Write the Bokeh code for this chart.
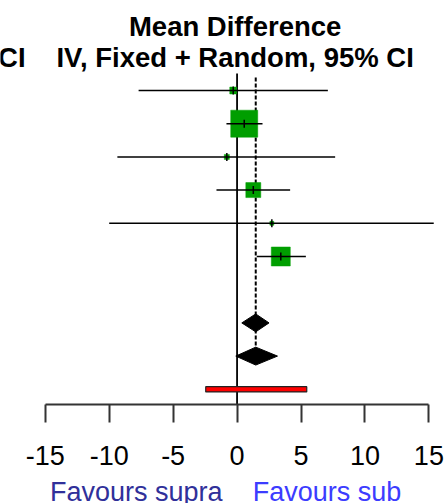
from bokeh.plotting import figure
from bokeh.layouts import column
from bokeh.models import Range1d, LinearAxis, FixedTicker, Label, ColumnDataSource
from bokeh.embed import file_html
from bokeh.resources import INLINE
import math

# Study-level mean differences with 95% confidence limits
md = [-0.30, 0.56, -0.80, 1.27, 2.72, 3.42]
ci_lower = [-7.70, -0.83, -9.36, -1.61, -10.00, 1.54]
ci_upper = [7.10, 1.99, 7.67, 4.15, 15.38, 5.38]
weight = [3.4, 52.0, 1.8, 16.0, 1.1, 25.7]   # percent

# Pooled estimates (mean, lower, upper) and prediction interval
fixed_est = [1.46, 0.37, 2.50]
random_est = [1.46, -0.10, 3.16]
pred_interval = [-2.45, 5.45]

ticks = [-15, -10, -5, 0, 5, 10, 15]
tick_labels = ["-15", "-10", "-5", "0", "5", "10", "15"]
title_1 = "Mean Difference"
title_2 = "IV, Fixed + Random, 95% CI"
left_col = "CI"
favours_left = "Favours supra"
favours_right = "Favours sub"

FONT = "Liberation Sans"
GREEN = "#009e00"

x_range = Range1d(-18.50, 16.30)

p = figure(frame_width=445, frame_height=404,
           x_range=x_range, y_range=Range1d(9.458, -2.711),
           output_backend="svg", toolbar_location=None,
           min_border_left=0, min_border_right=0, min_border_top=0,
           min_border_bottom=75, x_axis_type=None, y_axis_type=None)
p.grid.visible = False
p.outline_line_color = None
p.background_fill_color = "white"
p.border_fill_color = "white"

rows = list(range(len(md)))

# reference line at zero and dashed pooled-estimate line
p.segment(x0=[0], y0=[-0.51], x1=[0], y1=[9.458], line_color="black", line_width=1.8)
p.segment(x0=[fixed_est[0]], y0=[-0.39], x1=[fixed_est[0]], y1=[8],
          line_color="black", line_width=2, line_dash="4 2")

# weighted squares
sizes = [27 * math.sqrt(w / max(weight)) for w in weight]
src = ColumnDataSource(dict(x=md, y=rows, size=sizes))
p.scatter("x", "y", size="size", marker="square", source=src,
          fill_color=GREEN, line_color=GREEN, line_width=0.5)

# confidence intervals, drawn over the squares
p.segment(x0=ci_lower, y0=rows, x1=ci_upper, y1=rows, line_color="black", line_width=1.5)
# centre tick on each square
p.segment(x0=md, y0=[r - 0.12 for r in rows], x1=md, y1=[r + 0.12 for r in rows],
          line_color="black", line_width=1.5)

# pooled diamonds
h = 0.27
for est, yy in ((fixed_est, 7), (random_est, 8)):
    m, lo, hi = est
    p.patch(x=[lo, m, hi, m], y=[yy, yy - h, yy, yy + h],
            fill_color="black", line_color="black", line_width=1)

# prediction interval bar
p.quad(left=[pred_interval[0]], right=[pred_interval[1]], top=[9 - 0.08], bottom=[9 + 0.08],
       fill_color="#ff0000", line_color="#222222", line_width=1.2)

# x axis
ax = LinearAxis(ticker=FixedTicker(ticks=ticks), bounds=(-15, 15))
ax.major_label_overrides = {t: s for t, s in zip(ticks, tick_labels)}
ax.axis_line_color = "#333333"
ax.axis_line_width = 2
ax.major_tick_line_color = "#333333"
ax.major_tick_line_width = 2
ax.major_tick_out = 18
ax.major_tick_in = 0
ax.minor_tick_line_color = None
ax.major_label_standoff = 23
ax.major_label_text_font = FONT
ax.major_label_text_font_size = "27px"
ax.major_label_text_color = "black"
p.add_layout(ax, "below")

# headings
for txt, x, y, align in ((title_1, -0.15, -1.937, "center"),
                         (title_2, -0.15, -1.0, "center"),
                         (left_col, -16.54, -1.0, "right")):
    p.add_layout(Label(x=x, y=y, text=txt, text_align=align, text_baseline="alphabetic",
                       text_font=FONT, text_font_size="27.5px", text_font_style="bold",
                       text_color="black"))

# direction labels under the axis
q = figure(frame_width=445, frame_height=24, x_range=x_range, y_range=Range1d(0, 24),
           output_backend="svg", toolbar_location=None,
           min_border_left=0, min_border_right=0, min_border_top=0, min_border_bottom=0,
           x_axis_type=None, y_axis_type=None)
q.grid.visible = False
q.outline_line_color = None
q.border_fill_color = "white"
q.add_layout(Label(x=-1.13, y=11.5, text=favours_left, text_align="right",
                   text_baseline="alphabetic", text_font=FONT, text_font_size="27px",
                   text_color="#30309a"))
q.add_layout(Label(x=1.22, y=11.5, text=favours_right, text_align="left",
                   text_baseline="alphabetic", text_font=FONT, text_font_size="27px",
                   text_color="#3c3cff"))

layout = column(p, q, spacing=0)
open("out.html", "w").write(file_html(layout, INLINE))
